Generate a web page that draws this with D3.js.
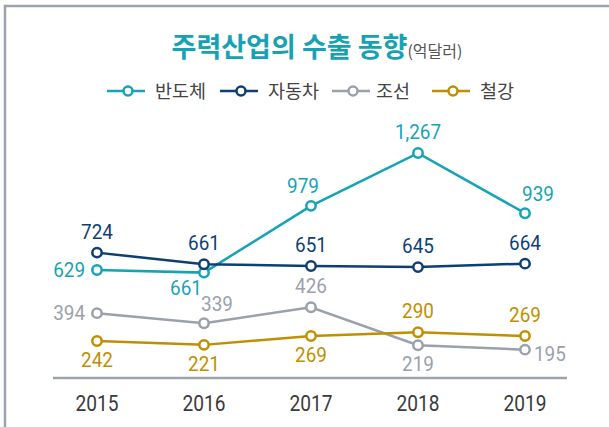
<!DOCTYPE html>
<html>
<head>
<meta charset="utf-8">
<script src="https://cdn.jsdelivr.net/npm/d3@7"></script>
<style>
  body { margin: 0; background: #fff; }
  svg { display: block; }
</style>
</head>
<body>
<svg width="609" height="427"></svg>
<script>
// data
var years = ["2015", "2016", "2017", "2018", "2019"]
var seriesNames = ["반도체", "자동차", "조선", "철강"]
var semiValues = [629, 615, 979, 1267, 939]
var semiLabels = ["629", "661", "979", "1,267", "939"]
var autoValues = [724, 661, 651, 645, 664]
var shipValues = [394, 339, 426, 219, 195]
var steelValues = [242, 221, 269, 290, 269]

// where each value label sits relative to its point
var semiPlace = ["l", "bl", "tl", "t", "tr"]
var autoPlace = ["t", "t", "t", "t", "t"]
var shipPlace = ["l", "tr", "t", "b", "r"]
var steelPlace = ["b", "b", "b", "t", "t"]

var colors = ["#14a4b6", "#0d3f74", "#9aa1ab", "#c08f00"]

var series = [
  { name: seriesNames[0], values: semiValues, labels: semiLabels, place: semiPlace, color: colors[0] },
  { name: seriesNames[1], values: autoValues, labels: autoValues.map(d3.format(",")), place: autoPlace, color: colors[1] },
  { name: seriesNames[2], values: shipValues, labels: shipValues.map(d3.format(",")), place: shipPlace, color: colors[2] },
  { name: seriesNames[3], values: steelValues, labels: steelValues.map(d3.format(",")), place: steelPlace, color: colors[3] }
]

var svg = d3.select("svg")
var numFont = "Roboto, 'Liberation Sans', sans-serif"
var krFont = "'Noto Sans CJK KR', 'Noto Sans', sans-serif"

// frame (top and left edge)
svg.append("path")
  .attr("d", "M5,427 V6 H609")
  .attr("fill", "none")
  .attr("stroke", "#9ba3ad")
  .attr("stroke-width", 2.5)

// title
var title = svg.append("text")
  .attr("x", 317)
  .attr("y", 57)
  .attr("text-anchor", "middle")
  .attr("font-family", krFont)
title.append("tspan")
  .attr("font-size", 27)
  .attr("font-weight", "bold")
  .attr("fill", "#17a2b4")
  .text("주력산업의 수출 동향")
title.append("tspan")
  .attr("font-size", 16)
  .attr("fill", "#555")
  .text("(억달러)")

// legend
var legendX = [107, 220, 332, 432]
var legend = svg.selectAll("g.legend")
  .data(series)
  .join("g")
  .attr("class", "legend")
  .attr("transform", (d, i) => "translate(" + legendX[i] + ",91)")
legend.append("line")
  .attr("x1", 0).attr("x2", 38)
  .attr("stroke", d => d.color)
  .attr("stroke-width", 2.5)
legend.append("circle")
  .attr("cx", 21).attr("r", 4.5)
  .attr("fill", "#fff")
  .attr("stroke", d => d.color)
  .attr("stroke-width", 2.5)
legend.append("text")
  .attr("x", (d, i) => i == 2 ? 44 : 48)
  .attr("y", 7)
  .attr("font-family", krFont)
  .attr("font-size", 18.5)
  .attr("fill", "#444")
  .text(d => d.name)

// scales
var x = d3.scalePoint().domain(years).range([97, 525])
var y = d3.scaleLinear().domain([0, 1300]).range([385.4, 147])
var baseY = 378

// x axis
var axis = svg.append("g")
  .attr("transform", "translate(0," + baseY + ")")
  .call(d3.axisBottom(x).tickSize(0).tickPadding(0))
axis.select(".domain")
  .attr("d", "M53,0 H567")
  .attr("stroke", "#9ba3ad")
  .attr("stroke-width", 2.5)
axis.selectAll(".tick text")
  .attr("y", 33.5)
  .attr("dy", null)
  .attr("font-family", numFont)
  .attr("font-size", 22.5)
  .attr("fill", "#3a3a3a")
  .attr("transform", "scale(0.85,1)")
axis.selectAll(".tick")
  .attr("transform", d => "translate(" + x(d) + ",0)")

// lines
var line = d3.line()
  .x((d, i) => x(years[i]))
  .y(d => y(d))

svg.selectAll("path.series")
  .data(series)
  .join("path")
  .attr("class", "series")
  .attr("d", d => line(d.values))
  .attr("fill", "none")
  .attr("stroke", d => d.color)
  .attr("stroke-width", 2.5)

// markers
series.forEach(s => {
  svg.append("g")
    .selectAll("circle")
    .data(s.values)
    .join("circle")
    .attr("cx", (d, i) => x(years[i]))
    .attr("cy", d => y(d))
    .attr("r", 4.7)
    .attr("fill", "#fff")
    .attr("stroke", s.color)
    .attr("stroke-width", 2.5)
})

// value labels
var offsets = {
  t: { dx: 0, dy: -14, anchor: "middle" },
  b: { dx: 0, dy: 26, anchor: "middle" },
  l: { dx: -12, dy: 7, anchor: "end" },
  r: { dx: 9, dy: 11, anchor: "start" },
  tl: { dx: -8, dy: -13, anchor: "middle" },
  tr: { dx: 13, dy: -12, anchor: "middle" },
  bl: { dx: -18, dy: 22, anchor: "middle" }
}

series.forEach(s => {
  svg.append("g")
    .selectAll("g")
    .data(s.values)
    .join("g")
    .attr("transform", (d, i) => {
      var o = offsets[s.place[i]]
      return "translate(" + (x(years[i]) + o.dx) + "," + (y(d) + o.dy) + ")"
    })
    .append("text")
    .attr("transform", "scale(0.9,1)")
    .attr("text-anchor", (d, i) => offsets[s.place[i]].anchor)
    .attr("font-family", numFont)
    .attr("font-size", 21)
    .attr("fill", s.color)
    .text((d, i) => s.labels[i])
})
</script>
</body>
</html>
